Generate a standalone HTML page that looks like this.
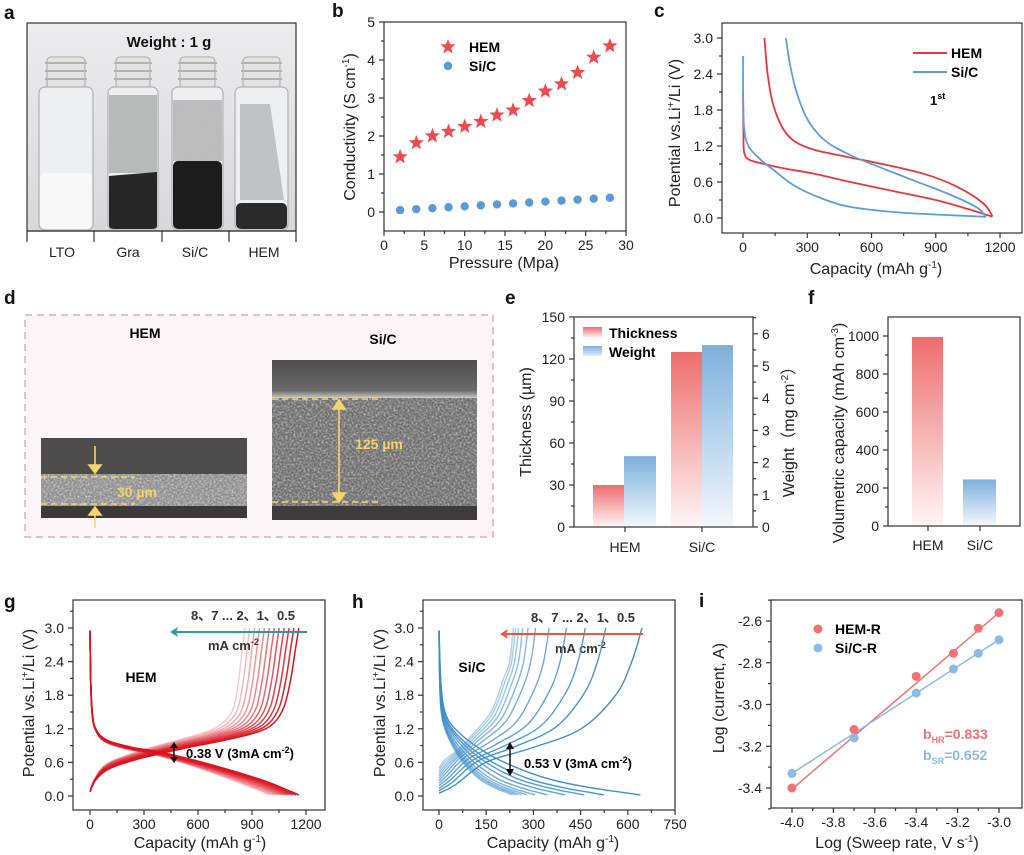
<!DOCTYPE html>
<html><head><meta charset="utf-8">
<style>
html,body{margin:0;padding:0;background:#fff;}
svg{display:block;font-family:"Liberation Sans",Arial,sans-serif;}
.t{font-size:14px;fill:#222;}
.ti{font-size:16px;fill:#222;}
.L{font-size:19px;font-weight:bold;fill:#111;}
.b{font-weight:bold;}
</style></head><body>
<svg id="s" xmlns="http://www.w3.org/2000/svg" width="1024" height="855" viewBox="0 0 1024 855">
<defs>
<linearGradient id="gbg" x1="0" y1="0" x2="0" y2="1"><stop offset="0" stop-color="#ececee"/><stop offset="1" stop-color="#d8d8da"/></linearGradient>
<linearGradient id="gr" x1="0" y1="0" x2="0" y2="1"><stop offset="0" stop-color="#ee6d6d"/><stop offset="1" stop-color="#fff5f5"/></linearGradient>
<linearGradient id="gb" x1="0" y1="0" x2="0" y2="1"><stop offset="0" stop-color="#7cb0dc"/><stop offset="1" stop-color="#f4f8fc"/></linearGradient>
<linearGradient id="grl" x1="0" y1="0" x2="0" y2="1"><stop offset="0" stop-color="#ee6d6d"/><stop offset="1" stop-color="#fde9e9"/></linearGradient>
<linearGradient id="gbl" x1="0" y1="0" x2="0" y2="1"><stop offset="0" stop-color="#7cb0dc"/><stop offset="1" stop-color="#e3eef8"/></linearGradient>
<linearGradient id="semtop" x1="0" y1="0" x2="0" y2="1"><stop offset="0" stop-color="#4e4e4e"/><stop offset="0.8" stop-color="#6a6a6a"/><stop offset="1" stop-color="#c8c8c8"/></linearGradient>
<filter id="noise" x="0" y="0" width="100%" height="100%"><feTurbulence type="fractalNoise" baseFrequency="0.35" numOctaves="2" seed="3"/><feColorMatrix type="matrix" values="0 0 0 0 0.5  0 0 0 0 0.5  0 0 0 0 0.5  1.2 0 0 0 -0.3"/></filter>
<filter id="noise2" x="0" y="0" width="100%" height="100%"><feTurbulence type="fractalNoise" baseFrequency="0.5" numOctaves="2" seed="7"/><feColorMatrix type="matrix" values="0 0 0 0 1  0 0 0 0 1  0 0 0 0 1  1.4 0 0 0 -0.55"/></filter>
</defs>

<text class="L" x="4" y="19">a</text>
<rect x="27" y="23" width="269" height="208" fill="url(#gbg)" stroke="#333" stroke-width="1.2"/>
<text x="169" y="47" text-anchor="middle" class="b" style="font-size:15px" fill="#111">Weight : 1 g</text>
<g id="vials"></g>
<line x1="27" y1="231" x2="296" y2="231" stroke="#333" stroke-width="1.2"/>
<g stroke="#333" stroke-width="1.2"><line x1="27" y1="231" x2="27" y2="242"/><line x1="94" y1="231" x2="94" y2="242"/><line x1="162" y1="231" x2="162" y2="242"/><line x1="229" y1="231" x2="229" y2="242"/><line x1="296" y1="231" x2="296" y2="242"/></g>
<g class="ti" text-anchor="middle" style="font-size:14px"><text x="62" y="257">LTO</text><text x="128" y="257">Gra</text><text x="195" y="257">Si/C</text><text x="264" y="257">HEM</text></g>

<text class="L" x="4" y="304">d</text>
<rect x="25" y="315" width="468" height="222" fill="#fdf5f7" stroke="#f2a3be" stroke-width="1.5" stroke-dasharray="7,5"/>
<text x="145" y="338" text-anchor="middle" class="b" style="font-size:14px">HEM</text>
<text x="383" y="344" text-anchor="middle" class="b" style="font-size:14px">Si/C</text>
<rect x="41" y="438" width="206" height="80" fill="#4c4c4c"/>
<rect x="41" y="474" width="206" height="32" fill="#8e8e8e"/>
<rect x="41" y="474" width="206" height="32" filter="url(#noise2)" opacity="0.9"/>
<rect x="41" y="506" width="206" height="12" fill="#3a3a3a"/>
<g stroke="#f5d66a" stroke-width="1.6" stroke-dasharray="6,4"><line x1="41" y1="477" x2="135" y2="477"/><line x1="41" y1="504" x2="135" y2="504"/></g>
<g stroke="#f5d66a" stroke-width="1.6" fill="#f5d66a"><line x1="95" y1="446" x2="95" y2="468"/><polygon points="89,465 101,465 95,473"/><line x1="95" y1="528" x2="95" y2="513"/><polygon points="89,515 101,515 95,507"/></g>
<text x="137" y="497" text-anchor="middle" class="b" style="font-size:14px" fill="#f3d46a">30 µm</text>
<rect x="272" y="360" width="205" height="160" fill="#6e6e6e"/>
<rect x="272" y="360" width="205" height="38" fill="url(#semtop)"/>
<rect x="272" y="397" width="205" height="110" filter="url(#noise2)" opacity="0.85"/>
<rect x="272" y="506" width="205" height="14" fill="#3c3c3c"/>
<g stroke="#f5d66a" stroke-width="1.6" stroke-dasharray="6,4"><line x1="272" y1="399" x2="380" y2="399"/><line x1="272" y1="502" x2="380" y2="502"/></g>
<g stroke="#f5d66a" stroke-width="1.6" fill="#f5d66a"><line x1="339" y1="406" x2="339" y2="496"/><polygon points="333,409 345,409 339,400"/><polygon points="333,493 345,493 339,502"/></g>
<text x="379" y="449" text-anchor="middle" class="b" style="font-size:14px" fill="#f3d46a">125 µm</text>

<text class="L" x="332" y="17">b</text>
<text class="L" x="654" y="17">c</text>
<text class="L" x="505" y="304">e</text>
<text class="L" x="808" y="304">f</text>
<text class="L" x="4" y="608">g</text>
<text class="L" x="352" y="608">h</text>
<text class="L" x="699" y="607">i</text>

<text class="ti" transform="translate(355,127) rotate(-90)" text-anchor="middle">Conductivity (S cm<tspan dy="-6" style="font-size:10px">-1</tspan><tspan dy="6">)</tspan></text>
<text class="ti" x="504" y="268" text-anchor="middle">Pressure (Mpa)</text>
<text x="469" y="52" class="b" style="font-size:14px">HEM</text>
<text x="469" y="71" class="b" style="font-size:14px">Si/C</text>

<text class="ti" transform="translate(680,133) rotate(-90)" text-anchor="middle">Potential vs.Li<tspan dy="-6" style="font-size:10px">+</tspan><tspan dy="6">/Li (V)</tspan></text>
<text class="ti" x="876" y="274" text-anchor="middle">Capacity (mAh g<tspan dy="-6" style="font-size:10px">-1</tspan><tspan dy="6">)</tspan></text>
<line x1="913" y1="53" x2="947" y2="53" stroke="#e8383d" stroke-width="2"/>
<line x1="913" y1="72" x2="947" y2="72" stroke="#5aa0d8" stroke-width="2"/>
<text x="951" y="58" class="b" style="font-size:14px">HEM</text>
<text x="951" y="77" class="b" style="font-size:14px">Si/C</text>
<text x="930" y="105" class="b" style="font-size:13px">1<tspan dy="-6" style="font-size:9px">st</tspan></text>

<text class="ti" transform="translate(531,422) rotate(-90)" text-anchor="middle">Thickness (µm)</text>
<text class="ti" transform="translate(794,428) rotate(-90)" text-anchor="middle" style="font-family:'Liberation Sans','Noto Sans CJK SC',sans-serif">Weight（mg cm<tspan dy="-6" style="font-size:10px">-2</tspan><tspan dy="6">）</tspan></text>
<rect x="583" y="327" width="19" height="10" fill="url(#grl)"/>
<rect x="583" y="346" width="19" height="10" fill="url(#gbl)"/>
<text x="609" y="338" class="b" style="font-size:14px">Thickness</text>
<text x="609" y="357" class="b" style="font-size:14px">Weight</text>
<text class="t" x="625" y="552" text-anchor="middle">HEM</text>
<text class="t" x="702" y="552" text-anchor="middle">Si/C</text>

<text class="ti" transform="translate(844,433) rotate(-90)" text-anchor="middle">Volumetric capacity (mAh cm<tspan dy="-6" style="font-size:10px">-3</tspan><tspan dy="6">)</tspan></text>
<text class="t" x="928" y="550" text-anchor="middle">HEM</text>
<text class="t" x="980" y="550" text-anchor="middle">Si/C</text>

<text class="ti" transform="translate(34,703) rotate(-90)" text-anchor="middle">Potential vs.Li<tspan dy="-6" style="font-size:10px">+</tspan><tspan dy="6">/Li (V)</tspan></text>
<text class="ti" x="200" y="848" text-anchor="middle">Capacity (mAh g<tspan dy="-6" style="font-size:10px">-1</tspan><tspan dy="6">)</tspan></text>
<text x="243" y="620" text-anchor="middle" class="b" style="font-size:13px" fill="#333">8、7 ... 2、1、0.5</text>
<text x="208" y="650" class="b" style="font-size:13px" fill="#333">mA cm<tspan dy="-5" style="font-size:9px">-2</tspan></text>
<text x="141" y="682" text-anchor="middle" class="b" style="font-size:14px">HEM</text>
<text x="186" y="758" class="b" style="font-size:13px">0.38 V (3mA cm<tspan dy="-5" style="font-size:9px">-2</tspan><tspan dy="5">)</tspan></text>

<text class="ti" transform="translate(385,703) rotate(-90)" text-anchor="middle">Potential vs.Li<tspan dy="-6" style="font-size:10px">+</tspan><tspan dy="6">/Li (V)</tspan></text>
<text class="ti" x="553" y="848" text-anchor="middle">Capacity (mAh g<tspan dy="-6" style="font-size:10px">-1</tspan><tspan dy="6">)</tspan></text>
<text x="583" y="622" text-anchor="middle" class="b" style="font-size:13px" fill="#333">8、7 ... 2、1、0.5</text>
<text x="555" y="653" class="b" style="font-size:13px" fill="#333">mA cm<tspan dy="-5" style="font-size:9px">-2</tspan></text>
<text x="472" y="672" text-anchor="middle" class="b" style="font-size:14px">Si/C</text>
<text x="524" y="768" class="b" style="font-size:13px">0.53 V (3mA cm<tspan dy="-5" style="font-size:9px">-2</tspan><tspan dy="5">)</tspan></text>

<text class="ti" transform="translate(724,698) rotate(-90)" text-anchor="middle">Log (current, A)</text>
<text class="ti" x="897" y="848" text-anchor="middle">Log (Sweep rate, V s<tspan dy="-6" style="font-size:10px">-1</tspan><tspan dy="6">)</tspan></text>
<text x="835" y="634" class="b" style="font-size:14px">HEM-R</text>
<text x="835" y="653" class="b" style="font-size:14px">Si/C-R</text>
<text x="923" y="739" class="b" style="font-size:14px" fill="#f07272">b<tspan dy="4" style="font-size:9px">HR</tspan><tspan dy="-4">=0.833</tspan></text>
<text x="923" y="760" class="b" style="font-size:14px" fill="#8cbbe6">b<tspan dy="4" style="font-size:9px">SR</tspan><tspan dy="-4">=0.652</tspan></text>
<g id="dyn"></g>
</svg>
<script>
(function(){
var NS='http://www.w3.org/2000/svg';
var root=document.getElementById('dyn');
function E(tag,a,txt,par){var e=document.createElementNS(NS,tag);for(var k in a)e.setAttribute(k,a[k]);if(txt!=null)e.textContent=txt;(par||root).appendChild(e);return e;}
function ln(x1,y1,x2,y2,c,w){E('line',{x1:x1,y1:y1,x2:x2,y2:y2,stroke:c||'#333','stroke-width':w||1.2});}
function rng(a,b,s){var r=[];for(var v=a;v<=b+1e-9;v+=s)r.push(Math.round(v*1000)/1000);return r;}
function box(x0,y0,x1,y1){E('rect',{x:x0,y:y0,width:x1-x0,height:y1-y0,fill:'none',stroke:'#333','stroke-width':1.2});}
function xt(X,y,vals,fmt,minor){vals.forEach(function(v){ln(X(v),y,X(v),y+5);E('text',{x:X(v),y:y+19,'text-anchor':'middle','class':'t'},fmt(v));});(minor||[]).forEach(function(v){ln(X(v),y,X(v),y+3);});}
function yt(Y,x,vals,fmt,minor,right){var d=right?1:-1;vals.forEach(function(v){ln(x,Y(v),x+5*d,Y(v));E('text',{x:x+9*d,y:Y(v)+5,'text-anchor':right?'start':'end','class':'t'},fmt(v));});(minor||[]).forEach(function(v){ln(x,Y(v),x+3*d,Y(v));});}
function smooth(p){var d='M'+p[0][0].toFixed(1)+','+p[0][1].toFixed(1);for(var i=0;i<p.length-1;i++){var p0=p[i-1]||p[i],p1=p[i],p2=p[i+1],p3=p[i+2]||p2;d+=' C'+(p1[0]+(p2[0]-p0[0])/6).toFixed(1)+','+(p1[1]+(p2[1]-p0[1])/6).toFixed(1)+' '+(p2[0]-(p3[0]-p1[0])/6).toFixed(1)+','+(p2[1]-(p3[1]-p1[1])/6).toFixed(1)+' '+p2[0].toFixed(1)+','+p2[1].toFixed(1);}return d;}
function path(pts,X,Y,c,w,op){E('path',{d:smooth(pts.map(function(p){return [X(p[0]),Y(p[1])];})),fill:'none',stroke:c,'stroke-width':w||1.6,'stroke-opacity':op==null?1:op,'stroke-linejoin':'round'});}
var f0=function(v){return String(v);}, f1=function(v){return v.toFixed(1);};
var vg=document.getElementById('vials');
function vial(x0,x1){E('rect',{x:x0+8,y:57,width:x1-x0-16,height:32,rx:4,fill:'#e2e3e2',stroke:'#a8a8a6','stroke-width':1},null,vg);
 for(var k=0;k<3;k++)E('line',{x1:x0+6,y1:63+k*8,x2:x1-6,y2:63+k*8,stroke:'#b2b2ae','stroke-width':2},null,vg);
 E('rect',{x:x0,y:87,width:x1-x0,height:143,rx:6,fill:'#eeeff0',stroke:'#b0b0b2','stroke-width':1.2},null,vg);}
vial(39,93);vial(108,158);vial(172,223);vial(235,288);
E('rect',{x:40,y:173,width:52,height:56,rx:5,fill:'#f8f8f8'},null,vg);
E('rect',{x:109,y:95,width:48,height:78,fill:'#8c8c8c',opacity:0.55},null,vg);
E('path',{d:'M109,176 L157,172 L157,225 Q157,229 152,229 L114,229 Q109,229 109,225Z',fill:'#262626'},null,vg);
E('rect',{x:173,y:100,width:49,height:61,fill:'#b4b4b6',opacity:0.85},null,vg);
E('rect',{x:173,y:100,width:49,height:61,filter:'url(#noise)',opacity:0.5},null,vg);
E('rect',{x:173,y:161,width:49,height:68,rx:5,fill:'#1c1c1c'},null,vg);
E('path',{d:'M240,104 L270,104 L284,200 L240,200Z',fill:'#9c9c9e',opacity:0.55},null,vg);
E('rect',{x:236,y:203,width:51,height:26,rx:5,fill:'#2a2a2a'},null,vg);

var bX=function(p){return 384+p*8.067;}, bY=function(v){return 212-v*38;};
box(384,22,626,231);
xt(bX,231,rng(0,30,5),f0,rng(2.5,27.5,5));
yt(bY,384,rng(0,5,1),f0,rng(0.5,4.5,1));
var hem=[1.45,1.82,2.0,2.12,2.25,2.38,2.55,2.68,2.93,3.18,3.37,3.67,4.07,4.37];
function star(cx,cy,R,c){var p=[];for(var i=0;i<10;i++){var r=i%2?R*0.42:R;var a=-Math.PI/2+i*Math.PI/5;p.push((cx+r*Math.cos(a)).toFixed(1)+','+(cy+r*Math.sin(a)).toFixed(1));}E('polygon',{points:p.join(' '),fill:c});}
hem.forEach(function(v,i){star(bX(2+2*i),bY(v),8,'#ee4a50');});
for(var i=0;i<14;i++){E('circle',{cx:bX(2+2*i),cy:bY(0.05+0.025*i),r:4.2,fill:'#5b9ad6'});}
star(448,47,8,'#ee4a50');E('circle',{cx:448,cy:66,r:4.2,fill:'#5b9ad6'});

var cX=function(q){return 743+q*0.2142;}, cY=function(v){return 218-v*60;};
box(722,23,1022,233);
xt(cX,233,rng(0,1200,300),f0,rng(150,1050,300));
yt(cY,722,rng(0,3,0.6),f1,rng(0.3,2.7,0.6));
path([[0,2.1],[2,1.5],[5,1.1],[30,0.97],[100,0.9],[200,0.82],[330,0.74],[500,0.6],[700,0.45],[900,0.3],[1050,0.15],[1165,0.02]],cX,cY,'#e8383d',1.8);
path([[1165,0.03],[1120,0.25],[1000,0.52],[850,0.73],[650,0.9],[470,1.03],[330,1.14],[240,1.28],[185,1.5],[140,1.9],[115,2.4],[100,3.0]],cX,cY,'#e8383d',1.8);
path([[0,2.7],[1,2.0],[5,1.5],[25,1.2],[80,0.98],[150,0.78],[230,0.56],[330,0.38],[480,0.2],[700,0.1],[950,0.05],[1135,0.02]],cX,cY,'#5aa0d8',1.8);
path([[1135,0.02],[1090,0.18],[960,0.4],[800,0.62],[650,0.83],[500,1.05],[380,1.3],[300,1.65],[250,2.1],[220,2.55],[200,3.0]],cX,cY,'#5aa0d8',1.8);

var eL=function(v){return 527-v*1.4;}, eR=function(v){return 527-v*32.2;};
E('rect',{x:593,y:eL(30),width:31,height:527-eL(30),fill:'url(#gr)'});
E('rect',{x:624,y:eR(2.2),width:32,height:527-eR(2.2),fill:'url(#gb)'});
E('rect',{x:671,y:eL(125),width:31,height:527-eL(125),fill:'url(#gr)'});
E('rect',{x:702,y:eR(5.65),width:31,height:527-eR(5.65),fill:'url(#gb)'});
box(574,317,753,527);
yt(eL,574,rng(0,150,30),f0,rng(15,135,30));
yt(eR,753,rng(0,6,1),f0,rng(0.5,6.5,0.5).filter(function(v){return v%1;}),true);
ln(625,527,625,532);ln(702,527,702,532);

var fY=function(v){return 526-v*0.19;};
E('rect',{x:912,y:fY(995),width:31,height:526-fY(995),fill:'url(#gr)'});
E('rect',{x:963,y:fY(245),width:33,height:526-fY(245),fill:'url(#gb)'});
box(888,317,1020,526);
yt(fY,888,rng(0,1000,200),f0,rng(100,900,200));
ln(928,526,928,531);ln(980,526,980,531);

var gX=function(q){return 90+q*0.18;}, gY=function(v){return 796-v*56;};
for(var k=11;k>=0;k--){var t=k/11;var op=1-0.78*t;var col='#d9141e';
 var Qd=1160-170*t;
 var dv=[[0,2.95],[0.004,2.0],[0.012,1.45],[0.03,1.18],[0.08,1.0],[0.2,0.87],[0.33,0.79],[0.5,0.64],[0.7,0.43],[0.85,0.25],[0.95,0.1],[1,0.02]];
 path(dv.map(function(p){return [p[0]*Qd,p[1]-0.03*t*(p[0]>0.05&&p[0]<0.9?1:0)];}),gX,gY,col,1.5,op);
 var Qc=1160-300*t;
 var cv=[[0,0.08],[0.03,0.3],[0.1,0.5],[0.25,0.68],[0.45,0.85],[0.65,1.0],[0.8,1.14],[0.88,1.3],[0.93,1.6],[0.962,2.1],[0.985,2.65],[1,3.0]];
 path(cv.map(function(p){return [p[0]*Qc,p[1]+0.06*t*(p[0]>0.05&&p[0]<0.9?1:0)];}),gX,gY,col,1.5,op);}
box(73,600,325,810);
xt(gX,810,rng(0,1200,300),f0,rng(150,1050,300));
yt(gY,73,rng(0,3,0.6),f1,rng(0.3,3.3,0.6));
ln(307,632,172,632,'#2a9aa8',2);E('polygon',{points:'170,632 178,627 176,632 178,637',fill:'#2a9aa8'});
ln(174,745,174,760,'#111',1.5);E('polygon',{points:'170,748 178,748 174,742',fill:'#111'});E('polygon',{points:'170,757 178,757 174,763',fill:'#111'});

var hX=function(q){return 439+q*0.3147;}, hY=gY;
var Qds=[640,525,460,400,345,305,280,262,250,240,232];
var Qcs=[645,530,465,405,350,307,283,266,253,243,236];
for(var k=10;k>=0;k--){var t=k/10;var op=1-0.6*t;var col='#3d8fcc';
 var Qd=Qds[k];
 var dv=[[0,2.95],[0.01,2.0],[0.03,1.5],[0.08,1.2],[0.2,0.85],[0.35,0.56],[0.55,0.3],[0.75,0.15],[0.9,0.07],[1,0.02]];
 path(dv.map(function(p){return [p[0]*Qd,p[1]];}),hX,hY,col,1.4,op);
 var Qc=Qcs[k];var v0=0.05+0.045*k;
 var cv=[[0,v0],[0.08,v0+0.15],[0.23,0.6+0.2*t],[0.45,0.85+0.25*t],[0.7,1.2+0.3*t],[0.87,1.8+0.3*t],[0.95,2.4],[1,3.0]];
 path(cv.map(function(p){return [p[0]*Qc,p[1]];}),hX,hY,col,1.4,op);}
box(423,600,675,810);
xt(hX,810,rng(0,750,150),f0,rng(75,675,150));
yt(hY,423,rng(0,3,0.6),f1,rng(0.3,3.3,0.6));
ln(643,634,503,634,'#f0543c',2);E('polygon',{points:'500,634 508,629 506,634 508,639',fill:'#f0543c'});
ln(510,746,510,772,'#111',1.5);E('polygon',{points:'506,749 514,749 510,742',fill:'#111'});E('polygon',{points:'506,769 514,769 510,776',fill:'#111'});

var iX=function(l){return 792+(l+4)*207;}, iY=function(v){return 621-(v+2.6)*208.75;};
box(771,600,1022,808);
xt(iX,808,rng(-4,-3,0.2),f1,rng(-3.9,-3.1,0.2));
yt(iY,771,rng(-3.4,-2.6,0.2),f1,rng(-3.5,-2.5,0.2));
ln(iX(-4),iY(-3.405),iX(-3),iY(-2.56),'#f07272',1.5);
ln(iX(-4),iY(-3.33),iX(-3),iY(-2.69),'#8cbbe6',1.5);
var lx=[-4,-3.7,-3.4,-3.22,-3.1,-3];
var hv=[-3.40,-3.12,-2.865,-2.755,-2.635,-2.56], sv=[-3.33,-3.16,-2.945,-2.83,-2.755,-2.69];
lx.forEach(function(l,i){E('circle',{cx:iX(l),cy:iY(hv[i]),r:4.5,fill:'#f07272'});E('circle',{cx:iX(l),cy:iY(sv[i]),r:4.5,fill:'#8cbbe6'});});
E('circle',{cx:818,cy:629,r:4.5,fill:'#f07272'});E('circle',{cx:818,cy:648,r:4.5,fill:'#8cbbe6'});
})();
</script>
</body></html>
